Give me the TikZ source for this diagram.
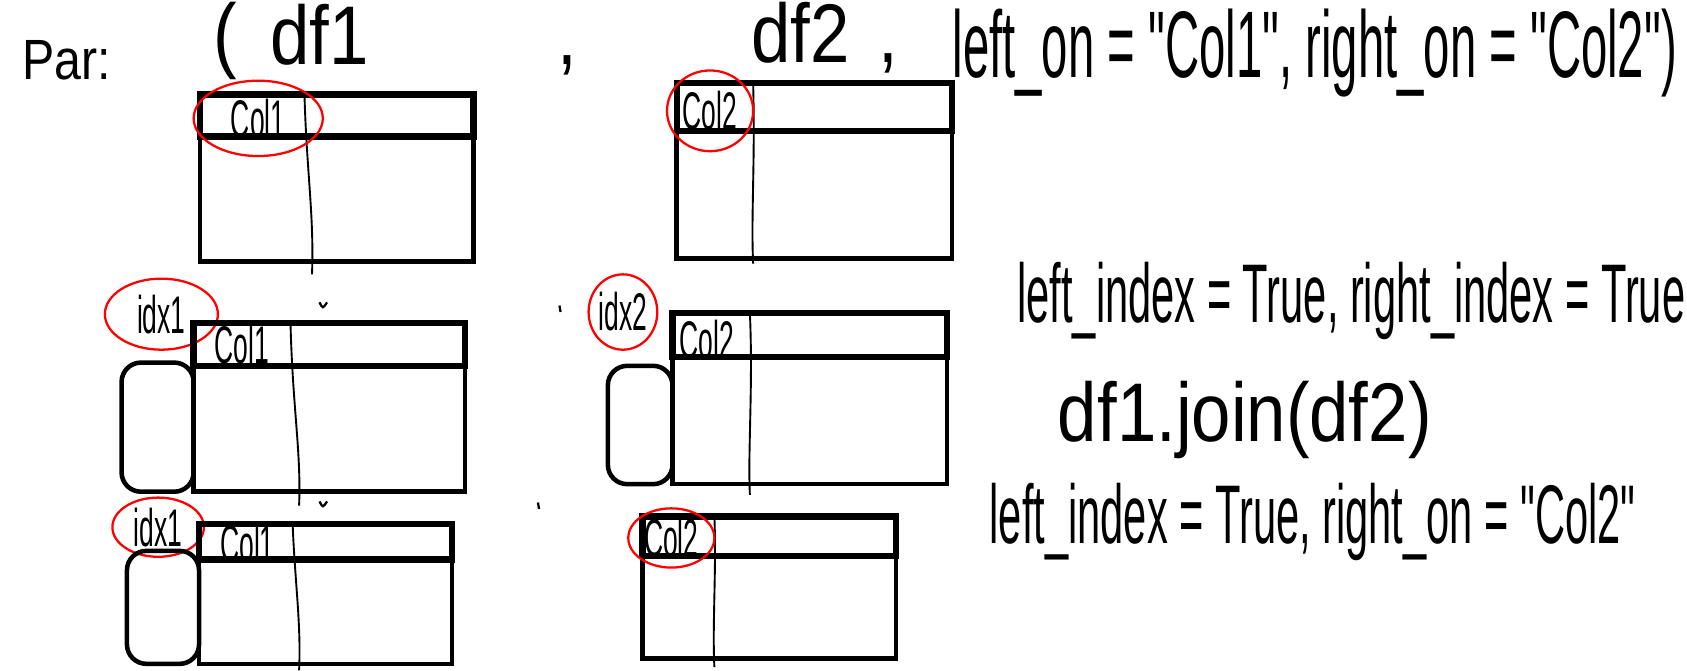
\documentclass[tikz,border=0pt]{standalone}
\usepackage{fontspec}
\newfontfamily\hand[FakeStretch=0.5]{Liberation Sans}
\newfontfamily\handwide[FakeStretch=0.85]{Liberation Sans}
\usetikzlibrary{shapes.geometric}

\begin{document}
\begin{tikzpicture}[
  x=0.01cm, y=-0.01cm,
  frame/.style={draw, line width=1.2pt},
  headrow/.style={draw, line width=1.7pt},
  colsep/.style={draw, line width=0.5pt},
  idxbox/.style={draw, line width=1.2pt, rounded corners=0.18cm},
  ring/.style={ellipse, draw=red, line width=0.6pt, inner sep=0pt,
               minimum width=#1},
  ring/.default={1cm},
  lbl/.style={font=\hand\fontsize{14}{14}\selectfont, inner sep=0pt},
  note/.style={font=\hand\fontsize{22}{24}\selectfont, inner sep=0pt, anchor=base},
  word/.style={font=\handwide\fontsize{22}{24}\selectfont, inner sep=0pt, anchor=base}
]
  \useasboundingbox (0,0) rectangle (1568,623);

  % call written on top
  \node[word, font=\handwide\fontsize{15}{17}\selectfont] (par) at (62,74) {Par:};
  \node[word] (open) at (209,58)  {(};
  \node[word] (df1)  at (297,60)  {df1};
  \node[word] (c1)   at (527,60)  {,};
  \node[word] (df2)  at (744,58)  {df2};
  \node[word] (c2)   at (826,58)  {,};
  \node[note, font=\hand\fontsize{25}{28}\selectfont] (args) at (1222,72)
    {left\_on = "Col1", right\_on = "Col2")};

  % df1 and df2 on columns
  \draw[frame] (186,127) rectangle (440,243);
  \draw[headrow] (186,88) rectangle (440,127);
  \draw[colsep] (283,88) .. controls (285,160) and (292,200) .. (290,255);
  \node[lbl, ring={1.2cm}, minimum height=0.7cm] (t1col) at (240,110) {Col1};

  \draw[frame] (629,122) rectangle (885,240);
  \draw[headrow] (629,77) rectangle (885,122);
  \draw[colsep] (700,77) .. controls (702,150) and (698,200) .. (700,245);
  \node[lbl, ring={0.8cm}, minimum height=0.75cm] (t2col) at (660,103) {Col2};

  % both on index
  \node[lbl, ring={1.05cm}, minimum height=0.66cm] (m1idx) at (150,292) {idx1};
  \draw[idxbox] (113,337) rectangle (180,457);
  \draw[frame] (180,340) rectangle (432,457);
  \draw[headrow] (180,300) rectangle (432,340);
  \draw[colsep] (270,300) .. controls (272,380) and (280,420) .. (278,470);
  \node[lbl] (m1col) at (225,320) {Col1};

  \node[lbl, ring={0.5cm}, minimum height=0.7cm] (m2idx) at (579,290) {idx2};
  \draw[idxbox] (565,340) rectangle (625,450);
  \draw[frame] (625,332) rectangle (880,450);
  \draw[headrow] (625,291) rectangle (880,332);
  \draw[colsep] (697,291) .. controls (700,360) and (695,420) .. (697,460);
  \node[lbl] (m2col) at (657,316) {Col2};

  \node[note] (both) at (1256,300) {left\_index = True, right\_index = True};
  \node[word] (join) at (1157,410) {df1.join(df2)};

  % index on the left, column on the right
  \node[lbl, ring={0.85cm}, minimum height=0.55cm] (b1idx) at (147,490) {idx1};
  \draw[idxbox] (118,512) rectangle (185,617);
  \draw[frame] (185,520) rectangle (420,617);
  \draw[headrow] (185,487) rectangle (420,520);
  \draw[colsep] (272,487) .. controls (274,540) and (280,580) .. (278,623);
  \node[lbl] (b1col) at (230,505) {Col1};

  \draw[frame] (597,517) rectangle (833,612);
  \draw[headrow] (597,480) rectangle (833,517);
  \draw[colsep] (664,480) .. controls (666,530) and (662,580) .. (664,620);
  \node[lbl, ring={0.8cm}, minimum height=0.55cm] (b2col) at (624,500) {Col2};

  \node[note] (mixed) at (1220,505) {left\_index = True, right\_on = "Col2"};

  % stray pen marks
  \draw[line width=0.6pt] (297,281) .. controls (300,287) .. (304,281);
  \draw[line width=0.6pt] (297,466) .. controls (300,472) .. (304,466);
  \draw[line width=0.6pt] (520,284) -- (521,290);
  \draw[line width=0.6pt] (500,467) -- (501,473);
\end{tikzpicture}
\end{document}
